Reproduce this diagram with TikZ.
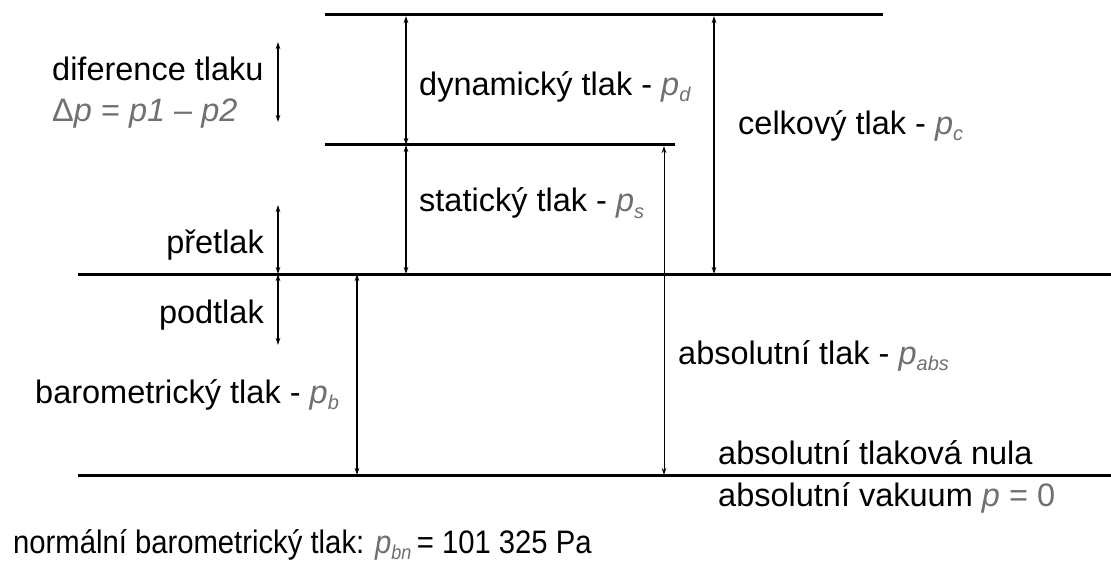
\documentclass[tikz,border=0pt]{standalone}
\usepackage{fontspec}
\setmainfont{Liberation Sans}
\usetikzlibrary{arrows.meta}
\definecolor{pg}{RGB}{112,112,112}
\newcommand{\gsub}[1]{{\color{pg}\itshape p\raisebox{-6pt}{\fontsize{20}{20}\selectfont #1}}}
\begin{document}
\begin{tikzpicture}[x=1pt,y=-1pt,
  level/.style={line width=3pt},
  dim/.style={line width=1.4pt,{Stealth[length=7pt,width=4.5pt]}-{Stealth[length=7pt,width=4.5pt]}},
  thindim/.style={line width=0.9pt,{Stealth[length=7pt,width=4.5pt]}-{Stealth[length=7pt,width=4.5pt]}},
  lbl/.style={anchor=base west,inner sep=0pt,font=\fontsize{32.5}{37}\selectfont},
  rlbl/.style={lbl,anchor=base east}]
\useasboundingbox (0,0) rectangle (1111,564);
% level lines
\coordinate (t1) at (325,15);  \coordinate (t2) at (883,15);
\coordinate (s1) at (325,145); \coordinate (s2) at (675,145);
\coordinate (a1) at (78,274);  \coordinate (a2) at (1111,274);
\coordinate (z1) at (78,475);  \coordinate (z2) at (1111,475);
\draw[level] (t1) -- (t2);
\draw[level] (s1) -- (s2);
\draw[level] (a1) -- (a2);
\draw[level] (z1) -- (z2);
% dimension arrows
\coordinate (dA) at (406,16);  \coordinate (dB) at (406,145); \coordinate (dC) at (406,274);
\draw[dim] (dA) -- (dB);
\draw[dim] (dB) -- (dC);
\coordinate (cA) at (714,16);  \coordinate (cB) at (714,274);
\draw[dim] (cA) -- (cB);
\coordinate (abA) at (664,146); \coordinate (abB) at (664,475);
\draw[thindim] (abA) -- (abB);
\coordinate (bA) at (357,274); \coordinate (bB) at (357,475);
\draw[dim] (bA) -- (bB);
\coordinate (fA) at (278,42);  \coordinate (fB) at (278,122);
\draw[dim] (fA) -- (fB);
\coordinate (pA) at (278,205); \coordinate (pB) at (278,274); \coordinate (pC) at (278,345);
\draw[dim] (pA) -- (pB);
\draw[dim] (pB) -- (pC);
% labels
\node[lbl] (dif) at (52,81) {diference tlaku};
\node[lbl,text=pg] (dp) at (52,122) {Δ\textit{p} = \textit{p1} – \textit{p2}};
\node[rlbl] (pre) at (264,253) {přetlak};
\node[rlbl] (pod) at (264,323) {podtlak};
\node[lbl] (bar) at (35,403) {barometrický tlak - \gsub{b}};
\node[lbl] (dyn) at (419,96) {dynamický tlak - \gsub{d}};
\node[lbl] (sta) at (419,212) {statický tlak - \gsub{s}};
\node[lbl] (cel) at (738,135) {celkový tlak - \gsub{c}};
\node[lbl] (abs) at (678,364) {absolutní tlak - \gsub{abs}};
\node[lbl] (nul) at (718,464) {absolutní tlaková nula};
\node[lbl] (vak) at (718,506) {absolutní vakuum {\color{pg}\textit{p} = 0}};
\node[lbl] (nor) at (13,553) {\scalebox{0.9}[1]{normální barometrický tlak: \gsub{bn}\hspace{-3pt} = 101 325 Pa}};
\end{tikzpicture}
\end{document}
